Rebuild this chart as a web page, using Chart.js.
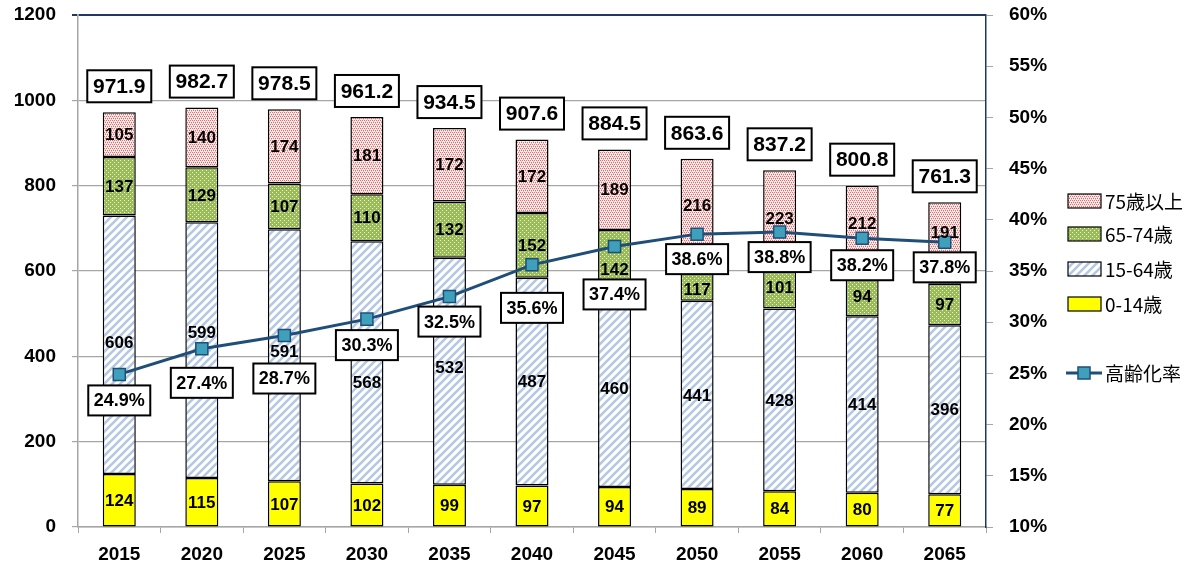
<!DOCTYPE html>
<html>
<head>
<meta charset="utf-8">
<script src="https://cdn.jsdelivr.net/npm/chart.js@4.4.0/dist/chart.umd.min.js"></script>
<style>
    html, body { margin: 0; padding: 0; background: #fff; }
    #wrap { width: 1195px; height: 568px; }
</style>
</head>
<body>
<div id="wrap"><canvas id="popChart" width="1195" height="568"></canvas></div>
<script>
// chart data
const years = ['2015', '2020', '2025', '2030', '2035', '2040', '2045', '2050', '2055', '2060', '2065'];
const age0to14 = [124, 115, 107, 102, 99, 97, 94, 89, 84, 80, 77];
const age15to64 = [606, 599, 591, 568, 532, 487, 460, 441, 428, 414, 396];
const age65to74 = [137, 129, 107, 110, 132, 152, 142, 117, 101, 94, 97];
const age75plus = [105, 140, 174, 181, 172, 172, 189, 216, 223, 212, 191];
const totals = [971.9, 982.7, 978.5, 961.2, 934.5, 907.6, 884.5, 863.6, 837.2, 800.8, 761.3];
const agingRate = [24.9, 27.4, 28.7, 30.3, 32.5, 35.6, 37.4, 38.6, 38.8, 38.2, 37.8];
const leftTicks = [0, 200, 400, 600, 800, 1000, 1200];
const rightTicks = [10, 15, 20, 25, 30, 35, 40, 45, 50, 55, 60];

// label nudges (Excel labels were moved by hand in the original)
const midShift = [-3, -18, -4, 20, -4, 0, 0, 0, 0, 0, 0];
const greenShift = [0, 0, 0, 0, 0, 0, 9, 13, 0, 0, 0];
const topShift = [0, 0, 0, 0, 0, 0, 0, 0, 0, -8, -11];
const rateGap = [26, 34, 43, 26, 25, 43, 48, 25, 25, 27, 25];

const NUM_FONT = "'Liberation Sans', Arial, sans-serif";
const JP_FONT = "'Noto Sans CJK JP', 'Noto Sans', sans-serif";
const LINE_COLOR = '#1F4E79';
const MARK_COLOR = '#3FA0BC';

function makePattern(size, draw) {
    const c = document.createElement('canvas');
    c.width = size; c.height = size;
    const g = c.getContext('2d');
    draw(g, size);
    return document.getElementById('popChart').getContext('2d').createPattern(c, 'repeat');
}

const redDots = makePattern(4, (g) => {
    g.fillStyle = '#FCEDED';
    g.fillRect(0, 0, 4, 4);
    g.fillStyle = '#E86A6A';
    [[0, 0], [2, 0], [1, 2], [3, 2]].forEach(p => g.fillRect(p[0], p[1], 1, 1));
    g.fillStyle = '#F4B8B8';
    [[1, 1], [3, 3]].forEach(p => g.fillRect(p[0], p[1], 1, 1));
});

const greenDots = makePattern(4, (g) => {
    g.fillStyle = '#9BBB59';
    g.fillRect(0, 0, 4, 4);
    g.fillStyle = '#E8F0D8';
    g.fillRect(0, 0, 1, 1);
    g.fillRect(2, 2, 1, 1);
});

const blueStripes = makePattern(8, (g, s) => {
    g.fillStyle = '#FFFFFF';
    g.fillRect(0, 0, s, s);
    g.strokeStyle = '#B4C8E6';
    g.lineWidth = 2.6;
    g.beginPath();
    g.moveTo(-2, s + 2); g.lineTo(s + 2, -2);
    g.moveTo(-2, 2); g.lineTo(2, -2);
    g.moveTo(s - 2, s + 2); g.lineTo(s + 2, s - 2);
    g.stroke();
});

const legendItems = [
    { label: '75歳以上', fill: redDots },
    { label: '65-74歳', fill: greenDots },
    { label: '15-64歳', fill: blueStripes },
    { label: '0-14歳', fill: '#FFFF00' }
];

function drawBox(ctx, cx, cy, w, h, text, font) {
    ctx.fillStyle = '#fff';
    ctx.fillRect(cx - w / 2, cy - h / 2, w, h);
    ctx.strokeStyle = '#000';
    ctx.lineWidth = 2;
    ctx.strokeRect(cx - w / 2, cy - h / 2, w, h);
    ctx.fillStyle = '#000';
    ctx.font = font;
    ctx.textAlign = 'center';
    ctx.textBaseline = 'middle';
    ctx.fillText(text, cx, cy + 1);
}

// value labels, total boxes, rate boxes and legend
const labelPlugin = {
    id: 'labelPlugin',
    afterDatasetsDraw(chart) {
        const ctx = chart.ctx;
        const shifts = [null, midShift, greenShift, topShift];
        ctx.save();
        ctx.font = 'bold 17px ' + NUM_FONT;
        ctx.fillStyle = '#000';
        ctx.textAlign = 'center';
        ctx.textBaseline = 'middle';
        for (let d = 0; d < 4; d++) {
            const meta = chart.getDatasetMeta(d);
            meta.data.forEach((el, i) => {
                let y = (el.y + el.base) / 2;
                if (shifts[d]) y += shifts[d][i];
                ctx.fillText(String(chart.data.datasets[d].data[i]), el.x, y + 1);
            });
        }

        // totals above bars
        const topMeta = chart.getDatasetMeta(3);
        topMeta.data.forEach((el, i) => {
            drawBox(ctx, el.x, el.y - 10 - 16, 64, 32, totals[i].toFixed(1), 'bold 21px ' + NUM_FONT);
        });

        // aging rate boxes
        const lineMeta = chart.getDatasetMeta(4);
        lineMeta.data.forEach((pt, i) => {
            drawBox(ctx, pt.x, pt.y + rateGap[i], 62, 30, agingRate[i].toFixed(1) + '%', 'bold 18px ' + NUM_FONT);
        });
        ctx.restore();
    },
    afterDraw(chart) {
        const ctx = chart.ctx;
        const x0 = chart.chartArea.right + 82;
        const rows = [201, 234, 269, 304];
        ctx.save();
        ctx.font = '19px ' + JP_FONT;
        ctx.textBaseline = 'middle';
        ctx.textAlign = 'left';
        legendItems.forEach((item, i) => {
            ctx.fillStyle = item.fill;
            ctx.fillRect(x0, rows[i] - 7, 33, 14);
            ctx.strokeStyle = '#000';
            ctx.lineWidth = 1.2;
            ctx.strokeRect(x0, rows[i] - 7, 33, 14);
            ctx.fillStyle = '#000';
            ctx.fillText(item.label, x0 + 37, rows[i] + 1);
        });
        // line legend
        const ly = 373;
        ctx.strokeStyle = LINE_COLOR;
        ctx.lineWidth = 3;
        ctx.beginPath();
        ctx.moveTo(x0 - 2, ly);
        ctx.lineTo(x0 + 34, ly);
        ctx.stroke();
        ctx.fillStyle = MARK_COLOR;
        ctx.fillRect(x0 + 10, ly - 6, 12, 12);
        ctx.lineWidth = 1.5;
        ctx.strokeRect(x0 + 10, ly - 6, 12, 12);
        ctx.fillStyle = '#000';
        ctx.fillText('高齢化率', x0 + 37, ly + 1);
        ctx.restore();
    }
};

const barCommon = {
    type: 'bar',
    yAxisID: 'y',
    stack: 'pop',
    borderColor: '#000',
    borderWidth: 1.5,
    borderSkipped: false,
    barPercentage: 0.4,
    categoryPercentage: 1.0,
    order: 1
};

new Chart(document.getElementById('popChart'), {
    data: {
        labels: years,
        datasets: [
            Object.assign({}, barCommon, { label: '0-14歳', data: age0to14, backgroundColor: '#FFFF00' }),
            Object.assign({}, barCommon, { label: '15-64歳', data: age15to64, backgroundColor: blueStripes }),
            Object.assign({}, barCommon, { label: '65-74歳', data: age65to74, backgroundColor: greenDots }),
            Object.assign({}, barCommon, { label: '75歳以上', data: age75plus, backgroundColor: redDots }),
            {
                type: 'line',
                label: '高齢化率',
                data: agingRate,
                yAxisID: 'y1',
                borderColor: LINE_COLOR,
                borderWidth: 3,
                tension: 0,
                pointStyle: 'rect',
                pointRadius: 8.5,
                pointBackgroundColor: MARK_COLOR,
                pointBorderColor: LINE_COLOR,
                pointBorderWidth: 1.5,
                order: 0
            }
        ]
    },
    options: {
        responsive: false,
        animation: false,
        layout: { padding: { top: 15, right: 139, bottom: 0, left: 0 } },
        plugins: {
            legend: { display: false },
            tooltip: { enabled: false }
        },
        scales: {
            x: {
                stacked: true,
                offset: true,
                afterFit: (axis) => { axis.height = 41; },
                grid: { offset: true, drawOnChartArea: false, drawTicks: true, tickLength: 6, color: '#A6A6A6' },
                border: { color: '#A6A6A6', width: 1.5 },
                ticks: { color: '#000', padding: 10, font: { family: NUM_FONT, size: 19, weight: 'bold' } }
            },
            y: {
                stacked: true,
                min: 0,
                max: 1200,
                afterBuildTicks: (axis) => { axis.ticks = leftTicks.map(v => ({ value: v })); },
                afterFit: (axis) => { axis.width = 78; axis.paddingTop = 10; axis.paddingBottom = 10; },
                grid: {
                    color: (c) => (c.tick && c.tick.value === 1200 ? '#1F3864' : '#A6A6A6'),
                    lineWidth: (c) => (c.tick && c.tick.value === 1200 ? 2 : 1.2),
                    tickLength: 6
                },
                border: { color: '#A6A6A6', width: 1.5 },
                ticks: {
                    color: '#000',
                    padding: 16,
                    callback: (v) => String(v),
                    font: { family: NUM_FONT, size: 19, weight: 'bold' }
                }
            },
            y1: {
                position: 'right',
                min: 10,
                max: 60,
                afterBuildTicks: (axis) => { axis.ticks = rightTicks.map(v => ({ value: v })); },
                afterFit: (axis) => { axis.width = 70; axis.paddingTop = 10; axis.paddingBottom = 10; },
                grid: { drawOnChartArea: false, tickLength: 7, color: '#A6A6A6' },
                border: { color: '#1F3864', width: 1.5 },
                ticks: {
                    color: '#000',
                    padding: 16,
                    callback: (v) => v + '%',
                    font: { family: NUM_FONT, size: 19, weight: 'bold' }
                }
            }
        }
    },
    plugins: [labelPlugin]
});
</script>
</body>
</html>
